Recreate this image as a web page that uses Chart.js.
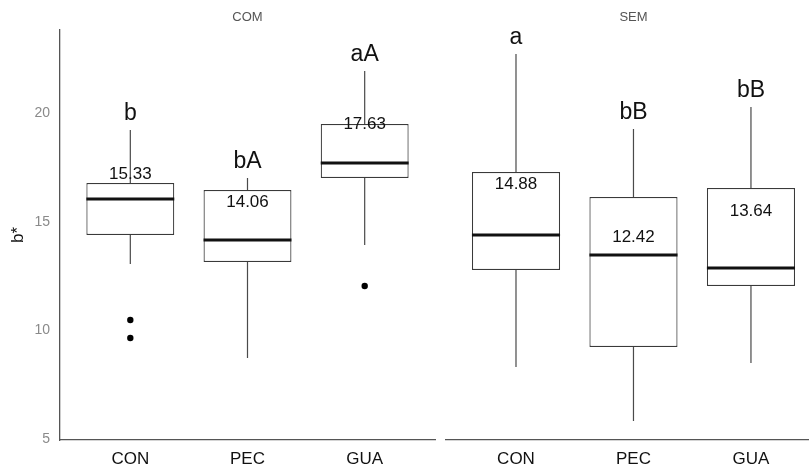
<!DOCTYPE html>
<html><head><meta charset="utf-8">
<script src="https://cdn.jsdelivr.net/npm/chart.js@4"></script>
<style>
html,body{margin:0;padding:0;background:#fff;}
#wrap{position:relative;width:809px;height:467px;overflow:hidden;background:#fff;}
canvas{position:absolute;top:0;}
#c1{left:0;width:440px;height:467px;}
#c2{left:440px;width:369px;height:467px;}
</style></head><body>
<div id="wrap"><canvas id="c1" width="440" height="467"></canvas><canvas id="c2" width="369" height="467"></canvas></div>
<script>
// ---- data ----
const categories = ['CON', 'PEC', 'GUA'];
const panels = ['COM', 'SEM'];
const yTicks = [5, 10, 15, 20];

const comLow    = [13.06, 8.73, 13.94];
const comQ1     = [14.40, 13.16, 17.03];
const comMedian = [16.06, 14.17, 17.72];
const comQ3     = [16.80, 16.47, 19.52];
const comHigh   = [19.24, 17.03, 21.96];
const comOutliers = [[10.48, 9.65], [], [12.05]];
const comMeans  = [15.33, 14.06, 17.63];
const comLetters = ['b', 'bA', 'aA'];

const semLow    = [8.32, 5.83, 8.50];
const semQ1     = [12.79, 9.24, 12.05];
const semMedian = [14.40, 13.48, 12.88];
const semQ3     = [17.30, 16.15, 16.57];
const semHigh   = [22.74, 19.29, 20.30];
const semOutliers = [[], [], []];
const semMeans  = [14.88, 12.42, 13.64];
const semLetters = ['a', 'bB', 'bB'];

// ---- drawing ----
const FONT = '"Liberation Sans", Arial, sans-serif';
const Y_MIN = 4.95, Y_MAX = 23.85;

function makePanel(canvasId, panelName, low, q1, med, q3, high, outl, means, letters, isLeft) {
  const boxData = categories.map((c, i) => ({x: i + 1, y: [q1[i], q3[i]]}));
  const outData = [];
  outl.forEach((arr, i) => arr.forEach(v => outData.push({x: i + 1, y: v})));

  const boxPlugin = {
    id: 'boxExtras',
    afterDatasetsDraw(chart) {
      const {ctx, scales: {x, y}} = chart;
      const unit = x.getPixelForValue(2) - x.getPixelForValue(1);
      const half = unit * 0.375;
      ctx.save();
      categories.forEach((c, i) => {
        const cx = x.getPixelForValue(i + 1);
        // whiskers
        ctx.strokeStyle = '#4a4a4a';
        ctx.lineWidth = 1.2;
        ctx.beginPath();
        ctx.moveTo(cx, y.getPixelForValue(q3[i]));
        ctx.lineTo(cx, y.getPixelForValue(high[i]));
        ctx.moveTo(cx, y.getPixelForValue(q1[i]));
        ctx.lineTo(cx, y.getPixelForValue(low[i]));
        ctx.stroke();
        // median
        ctx.strokeStyle = '#111';
        ctx.lineWidth = 3;
        ctx.beginPath();
        const my = y.getPixelForValue(med[i]);
        ctx.moveTo(cx - half, my);
        ctx.lineTo(cx + half, my);
        ctx.stroke();
        // letters
        ctx.fillStyle = '#111';
        ctx.textAlign = 'center';
        ctx.textBaseline = 'alphabetic';
        ctx.font = '23px ' + FONT;
        ctx.fillText(letters[i], cx, y.getPixelForValue(high[i]) - 10);
        // mean labels
        ctx.font = '17px ' + FONT;
        ctx.fillText(means[i].toFixed(2), cx, y.getPixelForValue(means[i]) - 35.5);
      });
      // strip label
      ctx.fillStyle = '#555';
      ctx.font = '13px ' + FONT;
      ctx.textAlign = 'center';
      ctx.textBaseline = 'middle';
      ctx.fillText(panelName, x.getPixelForValue(2), 17);
      ctx.restore();
    }
  };

  const xMax = isLeft ? 3.6 : 3.494;
  return new Chart(document.getElementById(canvasId), {
    data: {
      datasets: [
        {
          type: 'bar',
          data: boxData,
          backgroundColor: '#ffffff',
          borderColor: '#3a3a3a',
          borderWidth: 1.2,
          borderSkipped: false,
          categoryPercentage: 0.75,
          barPercentage: 1.0,
          order: 2
        },
        {
          type: 'scatter',
          data: outData,
          pointRadius: 3.2,
          pointBackgroundColor: '#000',
          pointBorderColor: '#000',
          pointBorderWidth: 0,
          order: 1
        }
      ]
    },
    options: {
      responsive: false,
      devicePixelRatio: 1,
      animation: false,
      layout: {padding: {top: 30, bottom: 0, left: isLeft ? 0 : 5.5, right: isLeft ? 5 : 0}},
      plugins: {legend: {display: false}, tooltip: {enabled: false}},
      scales: {
        x: {
          type: 'linear',
          offset: false,
          grace: 0,
          bounds: 'data',
          min: 0.4,
          max: xMax,
          afterBuildTicks: s => { s.ticks = categories.map((c, i) => ({value: i + 1})); },
          afterFit: s => { s.height = 27; },
          ticks: {
            callback: v => categories[v - 1],
            font: {family: FONT, size: 17},
            color: '#111',
            padding: 9,
            maxRotation: 0,
            autoSkip: false
          },
          grid: {display: false, drawTicks: false, offset: false},
          border: {display: true, color: '#555', width: 1.3}
        },
        y: {
          type: 'linear',
          display: isLeft,
          beginAtZero: false,
          min: Y_MIN,
          max: Y_MAX,
          afterBuildTicks: s => { s.ticks = yTicks.map(v => ({value: v})); },
          afterFit: s => { s.width = isLeft ? 60 : 0; },
          ticks: {
            font: {family: FONT, size: 14},
            color: '#8a8a8a',
            padding: 10
          },
          title: {
            display: isLeft,
            text: 'b*',
            font: {family: FONT, size: 17},
            color: '#111',
            padding: {top: 8, bottom: 0}
          },
          grid: {display: false, drawTicks: false},
          border: {display: isLeft, color: '#555', width: 1.3}
        }
      }
    },
    plugins: [boxPlugin]
  });
}

makePanel('c1', panels[0], comLow, comQ1, comMedian, comQ3, comHigh, comOutliers, comMeans, comLetters, true);
makePanel('c2', panels[1], semLow, semQ1, semMedian, semQ3, semHigh, semOutliers, semMeans, semLetters, false);
</script>
</body></html>
